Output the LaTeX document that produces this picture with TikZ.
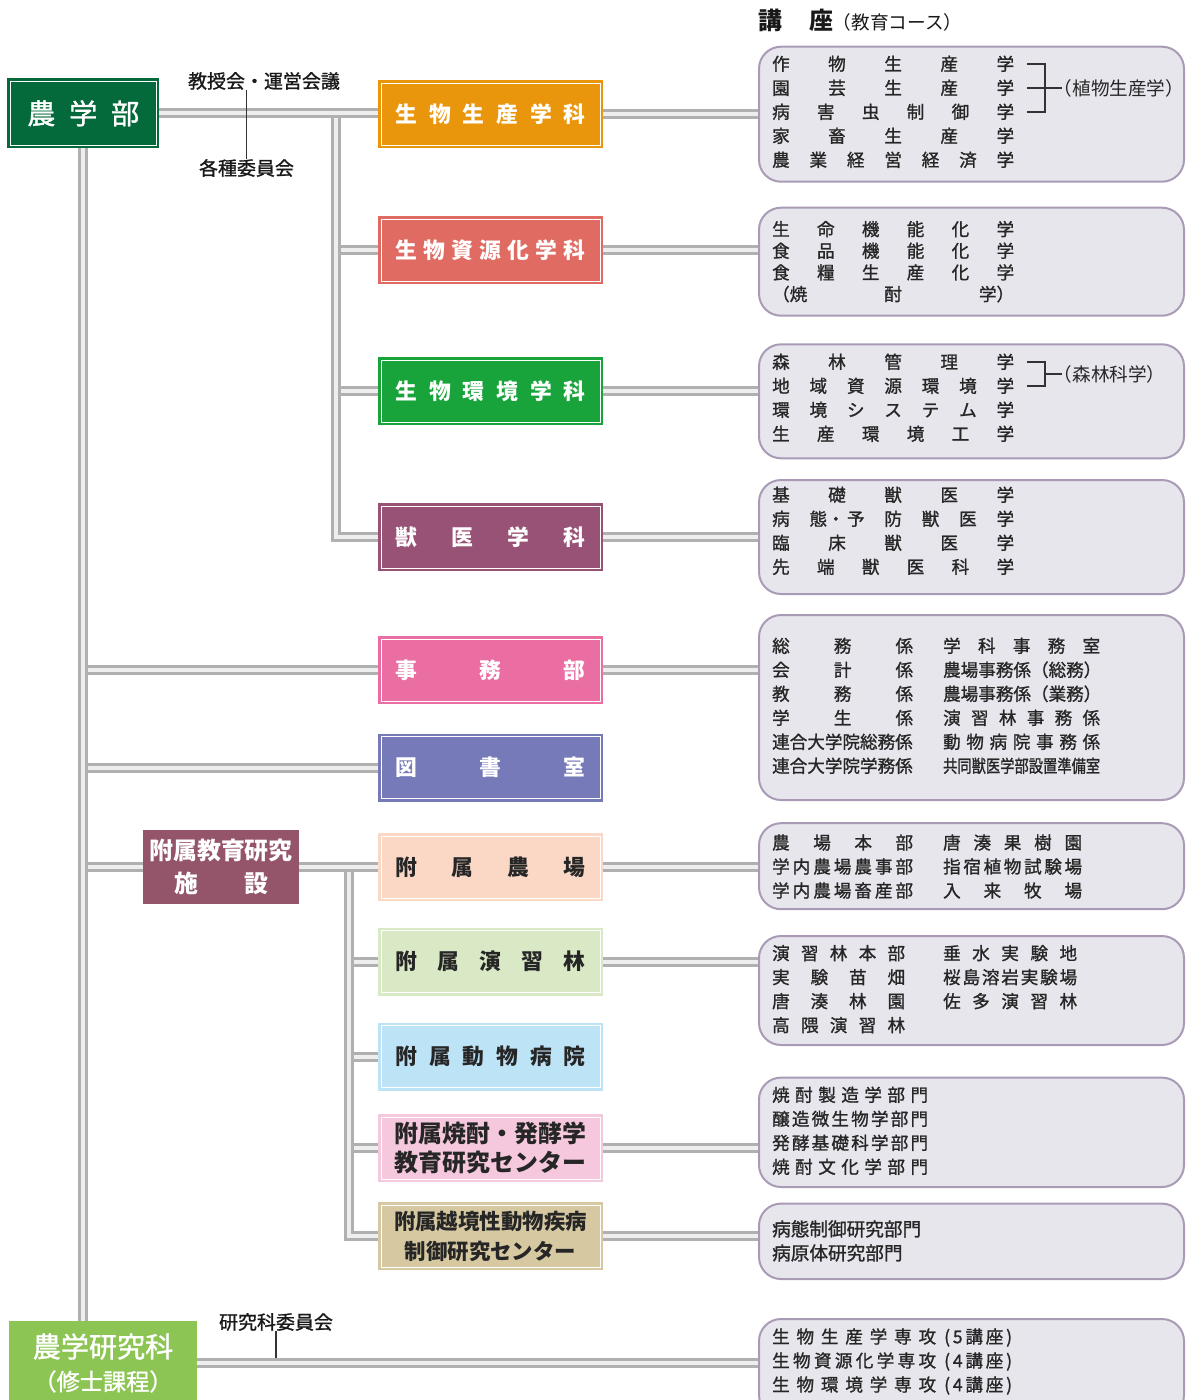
\documentclass[tikz,border=0pt]{standalone}
\usepackage{fontspec}
\usepackage{graphicx}
\usepackage{tikz}
\usetikzlibrary{positioning}
\usetikzlibrary{calc}

\setmainfont{Noto Sans CJK JP}
\newfontfamily\medfont{Noto Sans CJK JP}[FakeBold=1.2]

\definecolor{nogaku}{HTML}{046A3B}
\definecolor{seisan}{HTML}{E9960C}
\definecolor{shigen}{HTML}{E06B63}
\definecolor{kankyo}{HTML}{19A43B}
\definecolor{jui}{HTML}{985276}
\definecolor{jimu}{HTML}{EB6EA3}
\definecolor{tosho}{HTML}{767AB8}
\definecolor{fuzoku}{HTML}{94556A}
\definecolor{nojo}{HTML}{FAD8C5}
\definecolor{enshu}{HTML}{D9E8C5}
\definecolor{byoin}{HTML}{BDE3F7}
\definecolor{shochu}{HTML}{F6C8DD}
\definecolor{ekkyo}{HTML}{D6C9A1}
\definecolor{kenkyu}{HTML}{8DC555}
\definecolor{kouzafill}{HTML}{E8E6ED}
\definecolor{kouzaline}{HTML}{A99BB6}
\definecolor{pipeedge}{HTML}{B0B0B0}
\definecolor{pipecore}{HTML}{EEEEEE}

\newcommand{\spread}[2]{{\spaceskip=0pt plus 1fil\makebox[#1][s]{#2}}}
\newcommand{\squeeze}[2]{\resizebox{#1}{\height}{#2}}

\pgfdeclarelayer{back}
\pgfsetlayers{back,main}

\tikzset{
	dept/.style={draw=#1, fill=#1, double=white, double distance=0.5mm, line width=1.25mm,
		inner sep=0pt, minimum width=109.5mm, minimum height=31mm, text=white,
		font=\fontsize{31}{37}\selectfont\bfseries},
	fuzokudept/.style={dept=#1, text=black!85},
	plainbox/.style={fill=#1, inner sep=0pt, text=white},
	kouza/.style={draw=kouzaline, fill=kouzafill, line width=1mm, rounded corners=11mm,
		inner sep=0pt, minimum width=212.5mm},
	kline/.style={inner sep=0pt, anchor=base west, text=black!85,
		font=\medfont\fontsize{25}{34.14}\selectfont},
	pipe/.style={draw=pipeedge, line width=1.5mm, double=pipecore, double distance=2mm},
	note/.style={inner sep=0pt, text=black!90, font=\medfont\fontsize{27}{30}\selectfont},
	bracketline/.style={draw=black!80, line width=0.6mm},
}

\begin{document}
\begin{tikzpicture}[x=0.5mm,y=-0.5mm]

	\useasboundingbox (0,0) rectangle (1186,1400);

	% Nogakubu
	% ----------
	\node[dept=nogaku, minimum width=73mm, minimum height=32mm,
		  font=\medfont\fontsize{40}{46}\selectfont]
		  (Nogakubu) at (83.3,113.3) {\spread{56mm}{農 学 部}};

	\node[note] (Kyoju) at (264,81) {教授会・運営会議};
	\node[note] (Iinkai) at (246.5,168) {各種委員会};

	% Gakka
	% ----------
	\node[dept=seisan] (Seisan) at (490.5,114) {\spread{95mm}{生 物 生 産 学 科}};
	\node[dept=shigen] (Shigen) at (490.5,250.3) {\spread{95mm}{生 物 資 源 化 学 科}};
	\node[dept=kankyo] (Kankyo) at (490.5,391) {\spread{95mm}{生 物 環 境 学 科}};
	\node[dept=jui] (Jui) at (490.5,537.3) {\spread{95mm}{獣 医 学 科}};
	\node[dept=jimu] (Jimu) at (490.5,670) {\spread{95mm}{事 務 部}};
	\node[dept=tosho] (Tosho) at (490.5,767.5) {\spread{95mm}{図 書 室}};

	% Fuzoku shisetsu
	% ----------
	\node[plainbox=fuzoku, minimum width=78mm, minimum height=37mm, align=center,
		  font=\fontsize{34}{47}\selectfont\bfseries]
		  (Fuzoku) at (221,867) {附属教育研究\\\spread{47mm}{施 設}};

	\node[fuzokudept=nojo] (Nojo) at (490.5,867) {\spread{95mm}{附 属 農 場}};
	\node[fuzokudept=enshu] (Enshu) at (490.5,961.5) {\spread{95mm}{附 属 演 習 林}};
	\node[fuzokudept=byoin] (Byoin) at (490.5,1056.7) {\spread{95mm}{附 属 動 物 病 院}};
	\node[fuzokudept=shochu, align=center, font=\fontsize{34}{41.8}\selectfont\bfseries]
		  (Shochu) at (490.5,1148) {附属焼酎・発酵学\\教育研究センター};
	\node[fuzokudept=ekkyo, align=center, font=\fontsize{30.5}{42.7}\selectfont\bfseries]
		  (Ekkyo) at (490.5,1236) {附属越境性動物疾病\\制御研究センター};

	% Kenkyuka
	% ----------
	\node[plainbox=kenkyu, minimum width=94mm, minimum height=42mm, align=center,
		  font=\medfont\fontsize{40}{47}\selectfont]
		  (Kenkyuka) at (103,1363) {農学研究科\\{\fontsize{33}{47}\selectfont（修士課程）}};
	\node[note] (KenIinkai) at (276,1322) {研究科委員会};

	% Kouza
	% ----------
	\node[inner sep=0pt, anchor=base west, text=black!90, font=\fontsize{34}{40}\selectfont\bfseries]
		  (KouzaHead) at (758,30) {講\hspace{13.5mm}座{\mdseries\fontsize{26.5}{30}\selectfont（教育コース）}};

	\node[kouza, minimum height=67.5mm] (SeisanK) at (971.5,114.2) {};
	\node[kouza, minimum height=54mm] (ShigenK) at (971.5,261.7) {};
	\node[kouza, minimum height=57mm] (KankyoK) at (971.5,401.3) {};
	\node[kouza, minimum height=57mm] (JuiK) at (971.5,537) {};
	\node[kouza, minimum height=92.5mm] (JimuK) at (971.5,707.5) {};
	\node[kouza, minimum height=43mm] (NojoK) at (971.5,866.2) {};
	\node[kouza, minimum height=54.5mm] (EnshuK) at (971.5,990.5) {};
	\node[kouza, minimum height=54.7mm] (ShochuK) at (971.5,1132.3) {};
	\node[kouza, minimum height=37.7mm] (EkkyoK) at (971.5,1241.3) {};
	\node[kouza, minimum height=49mm] (KenkyukaK) at (971.5,1368) {};

	\node[kline] (SeisanT) at (772,70.5) {\parbox[t]{125mm}{%
		\spread{121mm}{作 物 生 産 学}\\
		\spread{121mm}{園 芸 生 産 学}\\
		\spread{121mm}{病 害 虫 制 御 学}\\
		\spread{121mm}{家 畜 生 産 学}\\
		\spread{121mm}{農 業 経 営 経 済 学}}};
	\draw[bracketline] (1027,64) -| (1045,112) -- (1027,112);
	\node[inner sep=0pt, anchor=west, text=black!85, font=\fontsize{26.5}{30}\selectfont]
		  (Shokubutsu) at (1062,88) {\hspace{-0.45em}（植物生産学）};
	\draw[bracketline] (1027,88) -- (Shokubutsu.west);

	\node[kline, font=\medfont\fontsize{25}{30.8}\selectfont] (ShigenT) at (772,235.8) {\parbox[t]{125mm}{%
		\spread{121mm}{生 命 機 能 化 学}\\
		\spread{121mm}{食 品 機 能 化 学}\\
		\spread{121mm}{食 糧 生 産 化 学}\\
		\spread{121mm}{（焼 酎 学）}}};

	\node[kline] (KankyoT) at (772,368.5) {\parbox[t]{125mm}{%
		\spread{121mm}{森 林 管 理 学}\\
		\spread{121mm}{地 域 資 源 環 境 学}\\
		\spread{121mm}{環 境 シ ス テ ム 学}\\
		\spread{121mm}{生 産 環 境 工 学}}};
	\draw[bracketline] (1027,362) -| (1045,386) -- (1027,386);
	\node[inner sep=0pt, anchor=west, text=black!85, font=\fontsize{26.5}{30}\selectfont]
		  (Shinrin) at (1062,374) {\hspace{-0.45em}（森林科学）};
	\draw[bracketline] (1045,374) -- (Shinrin.west);

	\node[kline] (JuiT) at (772,501.5) {\parbox[t]{125mm}{%
		\spread{121mm}{基 礎 獣 医 学}\\
		\spread{121mm}{病 態\makebox[0pt][l]{・} 予 防 獣 医 学}\\
		\spread{121mm}{臨 床 獣 医 学}\\
		\spread{121mm}{先 端 獣 医 科 学}}};

	\node[kline] (JimuT) at (772,652.5) {\parbox[t]{75mm}{%
		\spread{70.5mm}{総 務 係}\\
		\spread{70.5mm}{会 計 係}\\
		\spread{70.5mm}{教 務 係}\\
		\spread{70.5mm}{学 生 係}\\
		\spread{70.5mm}{連合大学院総務係}\\
		\spread{70.5mm}{連合大学院学務係}}};
	\node[kline] (JimuT2) at (943,652.5) {\parbox[t]{85mm}{%
		\spread{78.5mm}{学 科 事 務 室}\\
		\spread{78.5mm}{農場事務係（総務）}\\
		\spread{78.5mm}{農場事務係（業務）}\\
		\spread{78.5mm}{演 習 林 事 務 係}\\
		\spread{78.5mm}{動 物 病 院 事 務 係}\\
		\squeeze{78.5mm}{共同獣医学部設置準備室}}};

	\node[kline] (NojoT) at (772,849.2) {\parbox[t]{75mm}{%
		\spread{70.5mm}{農 場 本 部}\\
		\spread{70.5mm}{学 内 農 場 農 事 部}\\
		\spread{70.5mm}{学 内 農 場 畜 産 部}}};
	\node[kline] (NojoT2) at (943,849.2) {\parbox[t]{75mm}{%
		\spread{69.5mm}{唐 湊 果 樹 園}\\
		\spread{69.5mm}{指 宿 植 物 試 験 場}\\
		\spread{69.5mm}{入 来 牧 場}}};

	\node[kline] (EnshuT) at (772,959.8) {\parbox[t]{75mm}{%
		\spread{66.5mm}{演 習 林 本 部}\\
		\spread{66.5mm}{実 験 苗 畑}\\
		\spread{66.5mm}{唐 湊 林 園}\\
		\spread{66.5mm}{高 隈 演 習 林}}};
	\node[kline] (EnshuT2) at (943,959.8) {\parbox[t]{75mm}{%
		\spread{67mm}{垂 水 実 験 地}\\
		\spread{67mm}{桜 島 溶 岩 実 験 場}\\
		\spread{67mm}{佐 多 演 習 林}}};

	\node[kline] (ShochuT) at (772,1101.5) {\parbox[t]{85mm}{%
		\spread{78mm}{焼 酎 製 造 学 部 門}\\
		\spread{78mm}{醸 造 微 生 物 学 部 門}\\
		\spread{78mm}{発 酵 基 礎 科 学 部 門}\\
		\spread{78mm}{焼 酎 文 化 学 部 門}}};

	\node[kline, font=\medfont\fontsize{26.5}{34.14}\selectfont] (EkkyoT) at (772,1236) {\parbox[t]{85mm}{%
		病態制御研究部門\\
		病原体研究部門}};

	\node[kline] (KenkyukaT) at (772,1343.2) {\parbox[t]{125mm}{%
		\spread{82mm}{生 物 生 産 学 専 攻}\hspace{4mm}\spread{34mm}{( 5 講 座 )}\\
		\spread{82mm}{生 物 資 源 化 学 専 攻}\hspace{4mm}\spread{34mm}{( 4 講 座 )}\\
		\spread{82mm}{生 物 環 境 学 専 攻}\hspace{4mm}\spread{34mm}{( 4 講 座 )}}};

	% Thin lines
	\draw[bracketline] (Iinkai.north) -- (Iinkai.north |- Kyoju.south);

	% Pipes
	% ----------
	\coordinate (br1) at (336,114);
	\coordinate (br2) at (349,867);

	\begin{pgfonlayer}{back}
		\draw[bracketline] (KenIinkai.south) -- (KenIinkai.south |- Kenkyuka.east);

		\draw[pipe] (Nogakubu.south |- Jimu.west) -- (Jimu.west);
		\draw[pipe] (Nogakubu.south |- Tosho.west) -- (Tosho.west);
		\draw[pipe] (Nogakubu.south |- Fuzoku.west) -- (Fuzoku.west);
		\draw[pipe] (Nogakubu.south) -- (Nogakubu.south |- Kenkyuka.north);

		\draw[pipe] (br1 |- Shigen.west) -- (Shigen.west);
		\draw[pipe] (br1 |- Kankyo.west) -- (Kankyo.west);
		\draw[pipe] (br1) |- (Jui.west);
		\draw[pipe] (Nogakubu.east) -- (Nogakubu.east -| Seisan.west);

		\draw[pipe] (br2 |- Enshu.west) -- (Enshu.west);
		\draw[pipe] (br2 |- Byoin.west) -- (Byoin.west);
		\draw[pipe] (br2 |- Shochu.west) -- (Shochu.west);
		\draw[pipe] (br2) |- (Ekkyo.west);
		\draw[pipe] (Fuzoku.east) -- (Nojo.west);

		\draw[pipe] (Seisan.east) -- (Seisan.east -| SeisanK.west);
		\draw[pipe] (Shigen.east) -- (Shigen.east -| ShigenK.west);
		\draw[pipe] (Kankyo.east) -- (Kankyo.east -| KankyoK.west);
		\draw[pipe] (Jui.east) -- (Jui.east -| JuiK.west);
		\draw[pipe] (Jimu.east) -- (Jimu.east -| JimuK.west);
		\draw[pipe] (Nojo.east) -- (Nojo.east -| NojoK.west);
		\draw[pipe] (Enshu.east) -- (Enshu.east -| EnshuK.west);
		\draw[pipe] (Shochu.east) -- (Shochu.east -| ShochuK.west);
		\draw[pipe] (Ekkyo.east) -- (Ekkyo.east -| EkkyoK.west);
		\draw[pipe] (Kenkyuka.east) -- (Kenkyuka.east -| KenkyukaK.west);
	\end{pgfonlayer}

\end{tikzpicture}
\end{document}
